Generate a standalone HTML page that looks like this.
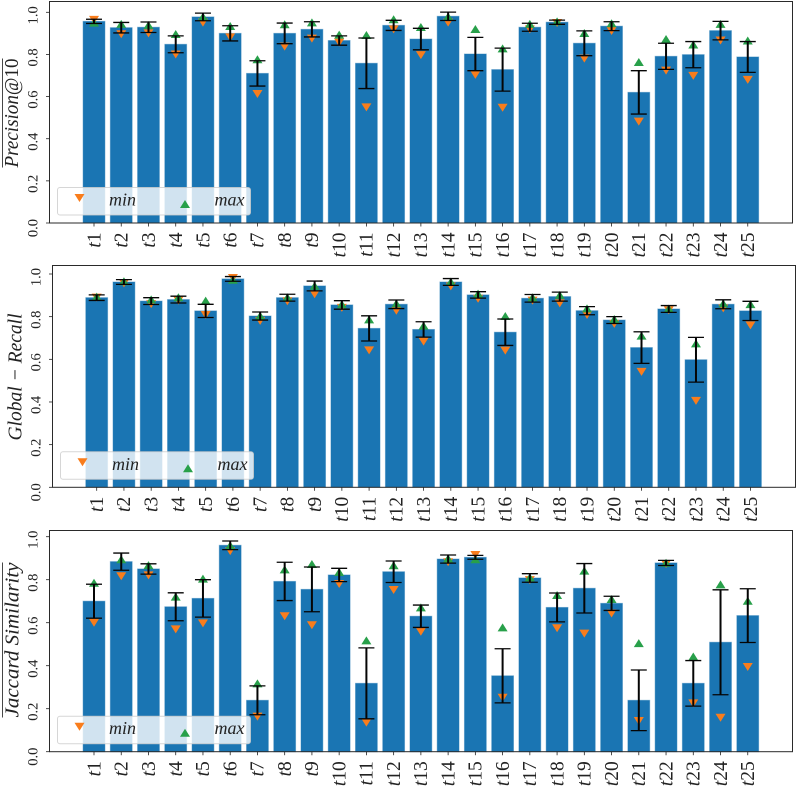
<!DOCTYPE html>
<html>
<head>
<meta charset="utf-8">
<title>Task metrics</title>
<style>
html,body{margin:0;padding:0;background:#fff}
svg{display:block}
text{font-family:"Liberation Serif",serif;fill:#222}
</style>
</head>
<body>
<svg id="chart" xmlns="http://www.w3.org/2000/svg" width="800" height="787" viewBox="0 0 800 787"></svg>
<script>
const categories = ["t1","t2","t3","t4","t5","t6","t7","t8","t9","t10","t11","t12","t13","t14","t15","t16","t17","t18","t19","t20","t21","t22","t23","t24","t25"];
const yTickLabels = ["0.0","0.2","0.4","0.6","0.8","1.0"];
const yTickValues = [0,0.2,0.4,0.6,0.8,1.0];

const precisionMean = [.957,.927,.929,.848,.978,.900,.710,.900,.919,.866,.758,.938,.873,.981,.802,.728,.929,.953,.853,.934,.620,.791,.799,.913,.788];
const precisionStd  = [.010,.025,.025,.040,.018,.036,.060,.049,.036,.022,.120,.024,.051,.020,.079,.102,.019,.010,.059,.021,.103,.062,.062,.044,.073];
const precisionMin  = [.964,.896,.900,.800,.951,.881,.612,.837,.875,.856,.549,.919,.797,.951,.703,.547,.919,.949,.780,.911,.481,.723,.698,.866,.679];
const precisionMax  = [.951,.945,.940,.897,.980,.935,.777,.943,.952,.894,.892,.967,.930,.980,.921,.829,.945,.957,.902,.948,.764,.873,.847,.945,.866];

const recallMean = [.889,.9625,.873,.880,.827,.977,.803,.889,.944,.855,.745,.858,.740,.9625,.902,.727,.886,.894,.828,.784,.655,.836,.598,.858,.827];
const recallStd  = [.013,.011,.016,.016,.031,.011,.019,.016,.023,.020,.059,.020,.036,.016,.015,.062,.018,.021,.019,.016,.074,.016,.105,.021,.045];
const recallMin  = [.889,.956,.859,.875,.808,.981,.780,.872,.905,.841,.642,.828,.683,.942,.884,.641,.875,.8625,.808,.766,.541,.830,.405,.839,.759];
const recallMax  = [.894,.966,.881,.891,.875,.973,.805,.891,.945,.859,.7875,.8625,.758,.964,.908,.803,.891,.902,.839,.789,.711,.8375,.675,.8625,.859];

const jaccardMean = [.700,.884,.850,.674,.713,.960,.239,.792,.755,.822,.318,.837,.630,.896,.904,.353,.808,.671,.760,.690,.239,.878,.318,.509,.633];
const jaccardStd  = [.079,.040,.024,.065,.087,.020,.067,.089,.104,.031,.165,.050,.052,.019,.009,.126,.020,.067,.115,.033,.141,.012,.106,.244,.125];
const jaccardMin  = [.600,.816,.820,.569,.597,.933,.163,.630,.588,.780,.135,.752,.558,.881,.915,.251,.798,.574,.549,.643,.143,.873,.225,.158,.394];
const jaccardMax  = [.786,.895,.868,.721,.805,.960,.318,.848,.873,.836,.518,.867,.671,.899,.895,.578,.811,.729,.842,.710,.505,.879,.443,.778,.702];

const NS = "http://www.w3.org/2000/svg";
const svg = document.getElementById("chart");

function mk(parent, tag, attrs){
  const e = document.createElementNS(NS, tag);
  for (const k in attrs) e.setAttribute(k, attrs[k]);
  parent.appendChild(e);
  return e;
}

function drawPanel(cfg){
  const xScale = i => cfg.x0 + i * 27.24;
  const yScale = v => cfg.y0 - v * cfg.unit;
  const g = mk(svg, "g", {});
  
  

  // bars
  cfg.mean.forEach((v, i) => {
    const b = mk(g, "rect", {x: xScale(i) - 10.9, y: yScale(v), width: 21.8, height: cfg.y0 - yScale(v), fill: "#1a75b3", stroke: "rgba(31,119,180,.45)", "stroke-width": 1});
    
    
  });

  // min / max markers
  cfg.min.forEach((v, i) => {
    const x = xScale(i), y = yScale(v);
    const m = mk(g, "polygon", {points: `${x-5},${y-4} ${x+5},${y-4} ${x},${y+4}`, fill: "#f97d1c"});
    
    
  });
  cfg.max.forEach((v, i) => {
    const x = xScale(i), y = yScale(v);
    const m = mk(g, "polygon", {points: `${x-5},${y+4} ${x+5},${y+4} ${x},${y-4}`, fill: "#28a04a"});
    
    
  });

  // error bars
  cfg.mean.forEach((v, i) => {
    const x = xScale(i), top = yScale(v + cfg.std[i]), bot = yScale(v - cfg.std[i]);
    const eg = mk(g, "g", {stroke: "#050505", fill: "none"});
    
    
    mk(eg, "line", {x1: x, x2: x, y1: top, y2: bot, "stroke-width": 2});
    mk(eg, "line", {x1: x - 8, x2: x + 8, y1: top, y2: top, "stroke-width": 1.3});
    mk(eg, "line", {x1: x - 8, x2: x + 8, y1: bot, y2: bot, "stroke-width": 1.3});
  });

  // axes frame
  const frame = mk(g, "rect", {x: cfg.left, y: cfg.top, width: cfg.right - cfg.left, height: cfg.y0 - cfg.top, fill: "none", stroke: "#2a2a2a", "stroke-width": 1});
  
  

  // y ticks
  yTickValues.forEach((v, i) => {
    const y = yScale(v);
    mk(g, "line", {x1: cfg.left - 3.5, x2: cfg.left, y1: y, y2: y, stroke: "#222", "stroke-width": 0.8});
    const tx = cfg.left - 12, ty = y + (i === 0 ? 5 : 3);
    const t = mk(g, "text", {x: tx, y: ty, transform: `rotate(-90 ${tx} ${ty})`, "text-anchor": "middle", "font-size": 14.5});
    
    
    t.textContent = yTickLabels[i];
  });

  // x ticks
  categories.forEach((c, i) => {
    const x = xScale(i);
    mk(g, "line", {x1: x, x2: x, y1: cfg.y0, y2: cfg.y0 + 3.5, stroke: "#222", "stroke-width": 0.8});
    const by = cfg.y0 + 9.5, bx = x + 6.3;
    const t = mk(g, "text", {x: bx, y: by, transform: `rotate(-90 ${bx} ${by})`, "text-anchor": "end", "font-size": 19.5});
    
    
    const it = mk(t, "tspan", {"font-style": "italic"});
    it.textContent = c[0];
    const rest = mk(t, "tspan", {});
    rest.textContent = c.slice(1);
  });

  // y axis title
  const lab = mk(g, "text", {x: cfg.labelX, y: cfg.labelY, transform: `rotate(-90 ${cfg.labelX} ${cfg.labelY})`, "text-anchor": "middle", "font-size": 20, textLength: cfg.labelLen, lengthAdjust: "spacingAndGlyphs"});
  
  
  const li = mk(lab, "tspan", {"font-style": "italic"});
  li.textContent = cfg.labelItalic;
  if (cfg.labelRoman) {
    const lr = mk(lab, "tspan", {});
    lr.textContent = cfg.labelRoman;
  }
  if (cfg.overline) {
    const ol = mk(g, "line", {x1: 2.5, x2: 2.5, y1: cfg.labelY - cfg.labelLen / 2, y2: cfg.labelY + cfg.labelLen / 2, stroke: "#333", "stroke-width": 0.9});
    
    
  }

  // legend
  const lg = mk(g, "g", {});
  
  
  const bl = cfg.left + 8, bb = cfg.y0 - 8;
  mk(lg, "rect", {x: bl, y: bb - 27.5, width: 193, height: 27.5, rx: 2.5, fill: "rgba(255,255,255,.8)", stroke: "rgba(204,204,204,.8)", "stroke-width": 1});
  const mnx = bl + 22, mny = bb - 17;
  const mn = mk(lg, "polygon", {points: `${mnx-5},${mny-4} ${mnx+5},${mny-4} ${mnx},${mny+4}`, fill: "#f97d1c"});
  
  
  const mxx = bl + 127.5, mxy = bb - 11;
  const mx = mk(lg, "polygon", {points: `${mxx-5},${mxy+4} ${mxx+5},${mxy+4} ${mxx},${mxy-4}`, fill: "#28a04a"});
  
  
  const t1 = mk(lg, "text", {x: bl + 65, y: bb - 9.5, "text-anchor": "middle", "font-size": 18, "font-style": "italic"});
  
  
  t1.textContent = "min";
  const t2 = mk(lg, "text", {x: bl + 172, y: bb - 9.5, "text-anchor": "middle", "font-size": 18, "font-style": "italic"});
  
  
  t2.textContent = "max";
}

drawPanel({name: "precision", left: 49.5, right: 792.5, top: 1.5, y0: 223, unit: 210.7, x0: 94,
  mean: precisionMean, std: precisionStd, min: precisionMin, max: precisionMax,
  labelItalic: "Precision", labelRoman: "@10", labelX: 18, labelY: 113, labelLen: 109, overline: true});
drawPanel({name: "global-recall", left: 52.5, right: 795.5, top: 265.5, y0: 487.3, unit: 213.3, x0: 96.7,
  mean: recallMean, std: recallStd, min: recallMin, max: recallMax,
  labelItalic: "Global \u2212 Recall", labelRoman: "", labelX: 21.5, labelY: 377, labelLen: 127, overline: false});
drawPanel({name: "jaccard", left: 49.5, right: 792.5, top: 530.5, y0: 751.7, unit: 215, x0: 94,
  mean: jaccardMean, std: jaccardStd, min: jaccardMin, max: jaccardMax,
  labelItalic: "Jaccard Similarity", labelRoman: "", labelX: 18.5, labelY: 640, labelLen: 155, overline: true});
</script>
</body>
</html>
